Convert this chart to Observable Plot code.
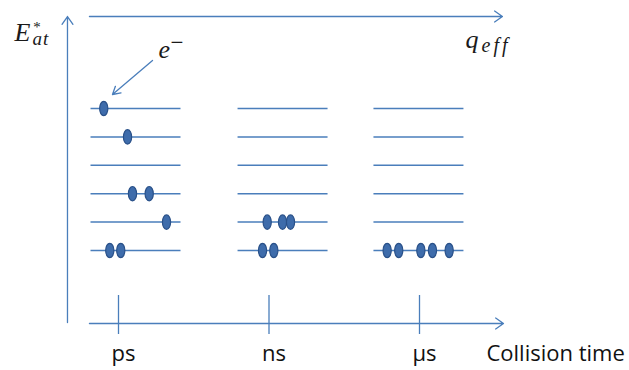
<!DOCTYPE html>
<html><head><meta charset="utf-8">
<script src="https://cdn.jsdelivr.net/npm/d3@7"></script>
<script src="https://cdn.jsdelivr.net/npm/@observablehq/plot@0.6"></script>
<style>body{margin:0;background:#fff}</style>
</head><body><div id="chart"></div>
<script>
// Collision-time categories (x ticks) and energy levels (y)
const times = ["ps", "ns", "µs"];
const levels = [1, 2, 3, 4, 5, 6];
// extent of the level lines around each collision-time tick (in time-axis units)
const spanStart = [-0.186, -0.209, -0.306];
const spanEnd = [0.412, 0.389, 0.292];
// electrons: which time group, which level, offset along the level line
const electronTime = ["ps","ps","ps","ps","ps","ps","ps","ns","ns","ns","ns","ns","µs","µs","µs","µs","µs"];
const electronLevel = [6, 5, 3, 3, 2, 1, 1, 2, 2, 2, 1, 1, 1, 1, 1, 1, 1];
const electronPos = [-0.098, 0.060, 0.093, 0.204, 0.319, -0.058, 0.015, -0.012, 0.090, 0.143, -0.043, 0.032, -0.215, -0.138, 0.009, 0.086, 0.197];
const axisTitleX = "Collision time";

const blue = "#4a7ebb";
const levelRows = [];
times.forEach((t, i) => levels.forEach(l => levelRows.push({x1: i + spanStart[i], x2: i + spanEnd[i], y: l})));
const electrons = electronTime.map((t, i) => ({x: times.indexOf(t) + electronPos[i], y: electronLevel[i]}));
const tickRows = times.map((t, i) => ({x: i, label: t}));

const ellipse = {
  draw(ctx, size) {
    const r = Math.sqrt(size / Math.PI), rx = r * 0.57, ry = r, k = 0.5523;
    ctx.moveTo(0, -ry);
    ctx.bezierCurveTo(k * rx, -ry, rx, -k * ry, rx, 0);
    ctx.bezierCurveTo(rx, k * ry, k * rx, ry, 0, ry);
    ctx.bezierCurveTo(-k * rx, ry, -rx, k * ry, -rx, 0);
    ctx.bezierCurveTo(-rx, -k * ry, -k * rx, -ry, 0, -ry);
    ctx.closePath();
  }
};

const axes = [
  {x1: -0.339, y1: -1.535, x2: -0.339, y2: 9.239},
  {x1: -0.193, y1: 9.239, x2: 2.551, y2: 9.239},
  {x1: -0.193, y1: -1.570, x2: 2.558, y2: -1.570}
];
const math = {fontFamily: "Liberation Serif", fontStyle: "italic", fill: "#1a1a1a", textAnchor: "start", lineAnchor: "bottom"};

const chart = Plot.plot({
  width: 629, height: 370, margin: 0,
  x: {domain: [0, 2], range: [118, 419], axis: null},
  y: {domain: [1, 6], range: [250, 108], axis: null},
  style: {background: "#fff", overflow: "visible"},
  marks: [
    Plot.arrow(axes, {x1: "x1", y1: "y1", x2: "x2", y2: "y2", stroke: blue, strokeWidth: 1.3, headLength: 11, headAngle: 70}),
    Plot.ruleX(tickRows, {x: "x", y1: -0.585, y2: -1.958, stroke: blue, strokeWidth: 1.3}),
    Plot.link(levelRows, {x1: "x1", x2: "x2", y1: "y", y2: "y", stroke: blue, strokeWidth: 1.5}),
    Plot.arrow([{x1: 0.226, y1: 7.69, x2: -0.04, y2: 6.493}], {x1: "x1", y1: "y1", x2: "x2", y2: "y2", stroke: blue, strokeWidth: 1.3, headLength: 10, headAngle: 60}),
    Plot.dot(electrons, {x: "x", y: "y", r: 7.2, symbol: ellipse, fill: "#3e6cab", stroke: "#2a5189", strokeWidth: 1.2}),
    Plot.text(tickRows, {x: "x", y: -2.908, text: "label", dx: 5, fontFamily: "Open Sans", fontSize: 22, fill: "#111", lineAnchor: "bottom"}),
    Plot.text([axisTitleX], {x: 2.445, y: -2.908, text: d => d, fontFamily: "Open Sans", fontSize: 22, fill: "#111", textAnchor: "start", lineAnchor: "bottom"}),
    Plot.text(["E"], {x: -0.691, y: 8.394, text: d => d, fontSize: 26, ...math, className: "eat"}),
    Plot.text(["e"], {x: 0.266, y: 7.761, text: d => d, fontSize: 26, ...math}),
    Plot.text(["\u2212"], {x: 0.346, y: 8.077, text: d => d, fontSize: 23, ...math, fontStyle: "normal"}),
    Plot.text(["q"], {x: 2.305, y: 8.113, text: d => d, fontSize: 26, ...math}),
    Plot.text(["eff"], {x: 2.412, y: 7.972, text: d => d, fontSize: 20, ...math, className: "eff"})
  ]
});
document.getElementById("chart").appendChild(chart);
// wider spacing of the subscript, as in the reference's math font
d3.select(chart).select("g.eff text").attr("letter-spacing", 3);
// superscript * and subscript "at" on the E label
const eNode = d3.select(chart).select("g.eat text");
const star = eNode.append("tspan").attr("font-size", 15).attr("dx", 2).attr("dy", -9).text("*");
const sw = star.node().getComputedTextLength();
eNode.append("tspan").attr("font-size", 19).attr("letter-spacing", 1).attr("dx", -sw).attr("dy", 13).text("at");
</script>
</body></html>
